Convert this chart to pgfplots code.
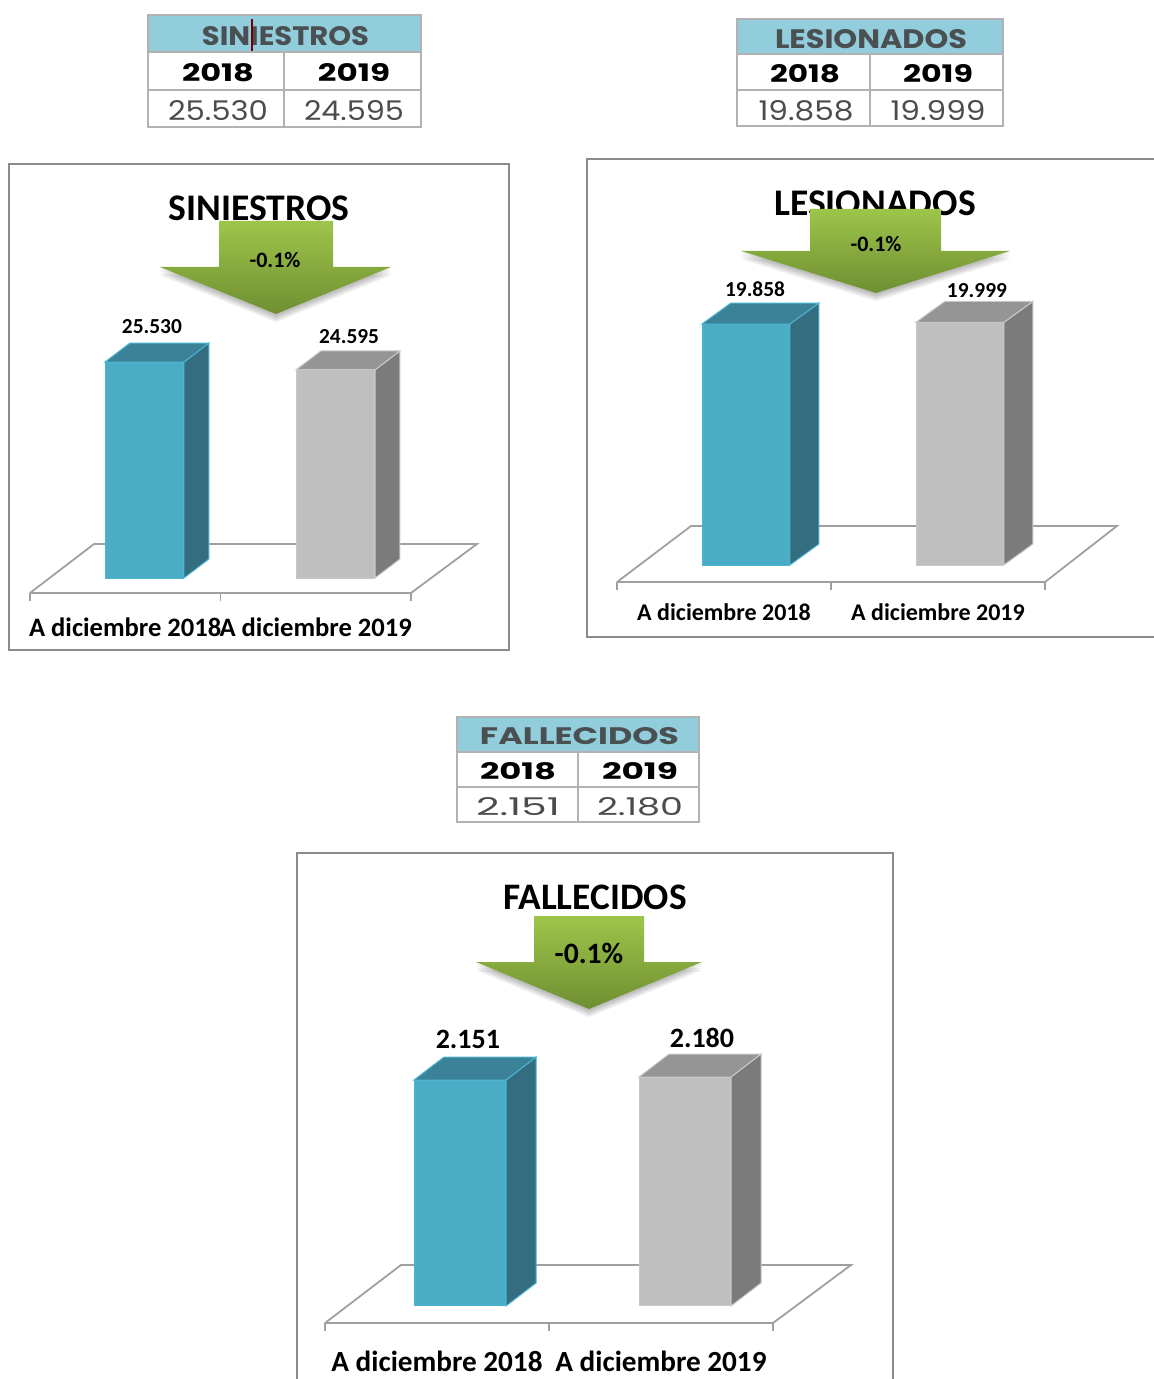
\documentclass[border=0pt]{standalone}
\usepackage{graphicx}
\usepackage{pgfplots}
\pgfplotsset{compat=1.18}
\usepackage{fontspec}
\setmainfont{Carlito}
\newfontfamily\tabfont{Poppins}

\definecolor{blueF}{HTML}{4BACC6}
\definecolor{blueS}{HTML}{336D7F}
\definecolor{blueT}{HTML}{3B8299}
\definecolor{blueE}{HTML}{4BB4D0}
\definecolor{grayF}{HTML}{BFBFBF}
\definecolor{grayS}{HTML}{7B7B7B}
\definecolor{grayT}{HTML}{959595}
\definecolor{grayE}{HTML}{C8C8C8}
\definecolor{framec}{HTML}{8C8C8C}
\definecolor{floorc}{HTML}{A0A0A0}
\definecolor{headc}{HTML}{92CDDC}
\definecolor{cellc}{HTML}{B2B2B2}
\definecolor{arrowT}{HTML}{9DC54A}
\definecolor{arrowB}{HTML}{6F8F32}

% front bar from the value, side and top faces from the same value
\newcommand{\solidbar}[7]{%
  \pgfmathsetmacro{\xc}{(#1+#2)/2}%
  \pgfmathsetmacro{\xr}{#2+#4}%
  \pgfmathsetmacro{\xl}{#1+#4}%
  \edef\ytop{\the\numexpr#3+#5\relax}%
  \edef\faces{%
    \noexpand\addplot[fill=#6S,draw=#6E,line width=0.5pt] coordinates {(#2,0) (\xr,#5) (\xr,\ytop) (#2,#3)} --cycle;
    \noexpand\addplot[fill=#6T,draw=#6E,line width=0.5pt] coordinates {(#1,#3) (#2,#3) (\xr,\ytop) (\xl,\ytop)} --cycle;
    \noexpand\addplot[ybar,bar width=#7pt,fill=#6F,draw=#6E,line width=0.5pt] coordinates {(\xc,#3)};
  }\faces
}

\pgfplotsset{chartaxis/.style={
  scale only axis, height=150pt, xmin=0, xmax=2,
  clip=false, axis x line*=bottom, axis y line=none,
  axis line style={draw=floorc,line width=0.9pt},
  xtick={0.5,1.5}, xticklabels={A diciembre 2018,A diciembre 2019},
  minor xtick={0,1,2}, major tick length=0pt, minor tick length=4pt,
  tick align=outside,
  every minor tick/.style={draw=floorc,line width=0.9pt},
  every tick/.style={draw=floorc,line width=0.9pt},
}}

% table above each chart: header band, years, totals
\newcommand{\statbox}[7]{%
  \fill[headc] (#1,#4) rectangle (#2,#5);
  \draw[cellc,line width=0.9pt] (#1,#4) rectangle (#2,#7);
  \draw[cellc,line width=0.9pt] (#1,#5) -- (#2,#5) (#1,#6) -- (#2,#6) (#3,#5) -- (#3,#7);
}
\newcommand{\cellt}[5]{\node[inner sep=0pt,anchor=center] at (#1,#2) {\resizebox{#3pt}{#4pt}{\tabfont #5}};}

% downward arrow with a soft shadow under its head
\newcommand{\downarrowbadge}[8]{%
  \foreach \s in {2,4,6,8}{\fill[black,opacity=0.07] (#5,{#4+\s}) -- (#6,{#4+\s}) -- (#7,{#8+\s}) -- cycle;}
  \path[top color=arrowT,bottom color=arrowB] (#1,#3) -- (#2,#3) -- (#2,#4) -- (#6,#4) -- (#7,#8) -- (#5,#4) -- (#1,#4) -- cycle;
}

\begin{document}
\begin{tikzpicture}[x=0.5pt,y=-0.5pt]
\path[use as bounding box] (0,0) rectangle (1154,1379);

% --- frames ---
\draw[framec,line width=0.9pt] (9,164) rectangle (509,650);
\draw[framec,line width=0.9pt] (1154,159) -- (587,159) -- (587,637) -- (1154,637);
\draw[framec,line width=0.9pt] (297,1379) -- (297,853) -- (893,853) -- (893,1379);

% --- tables ---
\statbox{148}{421}{284}{15}{52}{90}{127}
\definecolor{headtxt}{HTML}{4A4F52}
\cellt{285.5}{36.5}{83.5}{9.5}{\bfseries\color{headtxt}SINIESTROS}
\draw[red!45!black,line width=0.7pt] (252,19) -- (252,51);
\cellt{218}{73}{36}{9}{\bfseries 2018}
\cellt{354}{73}{36}{9}{\bfseries 2019}
\cellt{218}{110.5}{50}{10}{\color{black!70}25.530}
\cellt{354}{110.5}{50}{10}{\color{black!70}24.595}

\statbox{737}{1003}{870}{19}{54}{90}{126}
\cellt{871}{39.5}{96}{9.5}{\bfseries\color{headtxt}LESIONADOS}
\cellt{805}{74}{35}{9}{\bfseries 2018}
\cellt{938}{74}{35}{9}{\bfseries 2019}
\cellt{806}{110.5}{47.5}{10}{\color{black!70}19.858}
\cellt{938}{110.5}{47.5}{10}{\color{black!70}19.999}

\statbox{457}{699}{578}{717}{752}{787}{822}
\cellt{579.5}{736.5}{99.5}{8.5}{\bfseries\color{headtxt}FALLECIDOS}
\cellt{518}{771}{38}{8.5}{\bfseries 2018}
\cellt{640}{771}{38}{8.5}{\bfseries 2019}
\cellt{518}{806.5}{42}{9}{\color{black!70}2.151}
\cellt{640}{806.5}{43}{9}{\color{black!70}2.180}

% --- SINIESTROS ---
\begin{axis}[chartaxis, at={(15pt,-296.5pt)}, anchor=south west, width=190.5pt,
  ymin=-1773, ymax=33687,
  xticklabel style={font=\fontsize{13.3}{15}\selectfont\bfseries,anchor=center,yshift=-17pt}]
\addplot[draw=floorc,line width=0.9pt] coordinates {(0,-1773) (0.336,4019) (2.346,4019) (2,-1773)};
\solidbar{0.394}{0.808}{25530}{0.131}{2246}{blue}{38.8}
\solidbar{1.396}{1.811}{24595}{0.131}{2246}{gray}{38.8}
\node[font=\fontsize{10.7}{12}\selectfont\bfseries] at (axis cs:0.640,25530) [yshift=17.5pt] {25.530};
\node[font=\fontsize{10.7}{12}\selectfont\bfseries] at (axis cs:1.675,24595) [yshift=16.5pt] {24.595};
\end{axis}

% --- LESIONADOS ---
\begin{axis}[chartaxis, at={(308.5pt,-291pt)}, anchor=south west, width=214pt,
  ymin=-1401, ymax=23319,
  xticklabel style={font=\fontsize{12}{14}\selectfont\bfseries,anchor=center,yshift=-15pt}]
\addplot[draw=floorc,line width=0.9pt] coordinates {(0,-1401) (0.346,3214) (2.336,3214) (2,-1401)};
\solidbar{0.397}{0.808}{19858}{0.1355}{1730}{blue}{43.3}
\solidbar{1.397}{1.808}{19999}{0.1355}{1730}{gray}{43.3}
\node[font=\fontsize{10.7}{12}\selectfont\bfseries] at (axis cs:0.645,19858) [yshift=17.5pt] {19.858};
\node[font=\fontsize{10.7}{12}\selectfont\bfseries] at (axis cs:1.682,19999) [yshift=16pt] {19.999};
\end{axis}

% --- FALLECIDOS ---
\begin{axis}[chartaxis, at={(162.5pt,-661.5pt)}, anchor=south west, width=224pt,
  ymin=-162, ymax=2694,
  xticklabel style={font=\fontsize{14.6}{16}\selectfont\bfseries,anchor=center,yshift=-19pt}]
\addplot[draw=floorc,line width=0.9pt] coordinates {(0,-162) (0.339,390) (2.348,390) (2,-162)};
\solidbar{0.397}{0.808}{2151}{0.134}{219}{blue}{45.3}
\solidbar{1.402}{1.8125}{2180}{0.134}{219}{gray}{45.3}
\node[font=\fontsize{14}{15}\selectfont\bfseries] at (axis cs:0.638,2151) [yshift=20.5pt] {2.151};
\node[font=\fontsize{14}{15}\selectfont\bfseries] at (axis cs:1.683,2180) [yshift=19.5pt] {2.180};
\end{axis}

% --- titles with the arrow badge laid over them ---
\node[font=\fontsize{18.8}{20}\selectfont\bfseries] at (259,208.5) {SINIESTROS};
\downarrowbadge{219}{333}{221}{267}{160}{391}{276}{314}
\node[font=\fontsize{11}{12}\selectfont\bfseries] at (275,260.5) {-0.1\%};

\node[font=\fontsize{18.8}{20}\selectfont\bfseries] at (875,203.5) {LESIONADOS};
\downarrowbadge{810}{941}{209}{251}{741}{1010}{876}{293}
\node[font=\fontsize{11}{12}\selectfont\bfseries] at (876,244.5) {-0.1\%};

\node[font=\fontsize{18.7}{20}\selectfont\bfseries] at (595,897.5) {FALLECIDOS};
\downarrowbadge{534}{644}{916}{962}{476}{702}{589}{1009}
\node[font=\fontsize{14.8}{16}\selectfont\bfseries] at (589,953) {-0.1\%};
\end{tikzpicture}
\end{document}
